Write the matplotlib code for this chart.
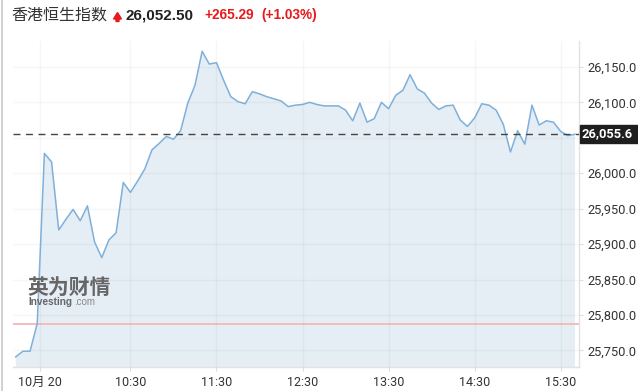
import numpy as np
import matplotlib.pyplot as plt
from matplotlib.patches import Polygon, Rectangle

# 5-minute closes, 09:10 .. 15:40
start_min = 10          # minutes after 09:00
step_min = 5
values = [
    25741, 25749, 25749, 25788, 26028, 26016, 25920, 25935, 25949, 25933,
    25954, 25903, 25881, 25906, 25916, 25987, 25973, 25989, 26006, 26033,
    26042, 26052, 26048, 26060, 26099, 26124, 26172, 26154, 26156, 26131,
    26108, 26101, 26098, 26115, 26112, 26108, 26105, 26102, 26094, 26096,
    26097, 26100, 26097, 26095, 26095, 26095, 26089, 26074, 26099, 26072,
    26077, 26100, 26091, 26110, 26117, 26139, 26119, 26113, 26099, 26090,
    26095, 26096, 26075, 26066, 26078, 26098, 26096, 26089, 26069, 26030,
    26060, 26041, 26096, 26068, 26074, 26072, 26059, 26053, 26055,
]
prev_close = 25787.21
last_price = 26055.6

tick_pos = [27, 90, 150, 210, 270, 330, 390]
tick_labels = ['10月 20', '10:30', '11:30', '12:30', '13:30', '14:30', '15:30']
y_ticks = [25750, 25800, 25850, 25900, 25950, 26000, 26050, 26100, 26150]

W, H = 638, 391
plt.rcParams['font.family'] = ['Roboto', 'Noto Sans CJK SC', 'DejaVu Sans']

fig = plt.figure(figsize=(W / 100, H / 100), dpi=100)
ax = fig.add_axes([12.7 / W, 1 - 367.3 / H, (579.3 - 12.7) / W, (367.3 - 41) / H])

t = start_min + step_min * np.arange(len(values))
ax.fill_between(t, values, 25600, color='#e5edf5', zorder=1, lw=0)
ax.plot(t, values, color='#7fb0da', lw=1.1, zorder=3)

ax.axhline(prev_close, color='#f3bcbc', lw=1.4, zorder=2)
ax.axhline(last_price, color='#444444', lw=1.0, dashes=(5, 4), zorder=4)

ax.set_xlim(7.9, 403)
ax.set_ylim(25726.3, 26186.5)

ax.set_xticks(tick_pos)
ax.set_xticklabels(tick_labels)
ax.set_yticks(y_ticks)
# the 26,050.0 label sits under the last-price tag
ax.set_yticklabels(['' if v == 26050 else f'{v:,.1f}' for v in y_ticks])
ax.yaxis.tick_right()
ax.tick_params(axis='x', labelsize=9, colors='#333333', length=3, width=0.8, pad=3)
ax.tick_params(axis='y', labelsize=9.3, colors='#333333', length=3, width=0.8, pad=2.5)
ax.tick_params(axis='both', color='#dddddd')
ax.grid(True, color='#000000', alpha=0.035, lw=1, zorder=2)
ax.set_axisbelow(False)

for side in ['top', 'left']:
    ax.spines[side].set_visible(False)
for side in ['right', 'bottom']:
    ax.spines[side].set_color('#e2e2e2')
    ax.spines[side].set_linewidth(1)

# last price tag on the right axis
tag_y = 1 - 133.9 / H
fig.patches.append(Rectangle((580 / W, tag_y - 9 / H), 60 / W, 18 / H,
                             transform=fig.transFigure, color='#1e1e1e', zorder=5))
fig.text(582 / W, tag_y, f'{last_price:,.1f}', color='white', fontsize=9.3,
         fontweight='bold', va='center', ha='left', zorder=6)

# page border on the left
fig.add_artist(plt.Line2D([2 / W, 2 / W], [0, 1], color='#c8c8c8', lw=1.2))

# header
hy = 1 - 15 / H
fig.text(11 / W, hy, '香港恒生指数', fontsize=11.5, color='#333333', va='center',
         family=['Noto Sans CJK SC', 'DejaVu Sans'])
arrow = [(113.5, 19), (117.5, 12.5), (121.5, 19), (119, 19), (119, 21.5), (116, 21.5), (116, 19)]
fig.patches.append(Polygon([(x / W, 1 - y / H) for x, y in arrow], closed=True,
                           transform=fig.transFigure, color='#e8191a'))
fig.text(126 / W, hy, '26,052.50', fontsize=11, fontweight='bold', color='#222222',
         va='center', family=['Liberation Sans', 'DejaVu Sans'])
fig.text(204 / W, hy, '+265.29', fontsize=9.8, fontweight='bold', color='#e8191a',
         va='center', family=['Liberation Sans', 'DejaVu Sans'])
fig.text(261 / W, hy, '(+1.03%)', fontsize=9.8, fontweight='bold', color='#e8191a',
         va='center', family=['Liberation Sans', 'DejaVu Sans'])

# watermark
fig.text(27 / W, 1 - 287 / H, '英为财情', fontsize=15, fontweight='bold', color='#666666',
         va='center', family=['Noto Sans CJK SC', 'DejaVu Sans'], zorder=6)
fig.text(28 / W, 1 - 302 / H, 'Investing', fontsize=7.2, fontweight='bold', color='#666666',
         va='center', family=['Liberation Sans', 'DejaVu Sans'], zorder=6)
fig.text(74 / W, 1 - 302 / H, '.com', fontsize=7, color='#888888',
         va='center', family=['Liberation Sans', 'DejaVu Sans'], zorder=6)

fig.savefig('out.png', dpi=100)
